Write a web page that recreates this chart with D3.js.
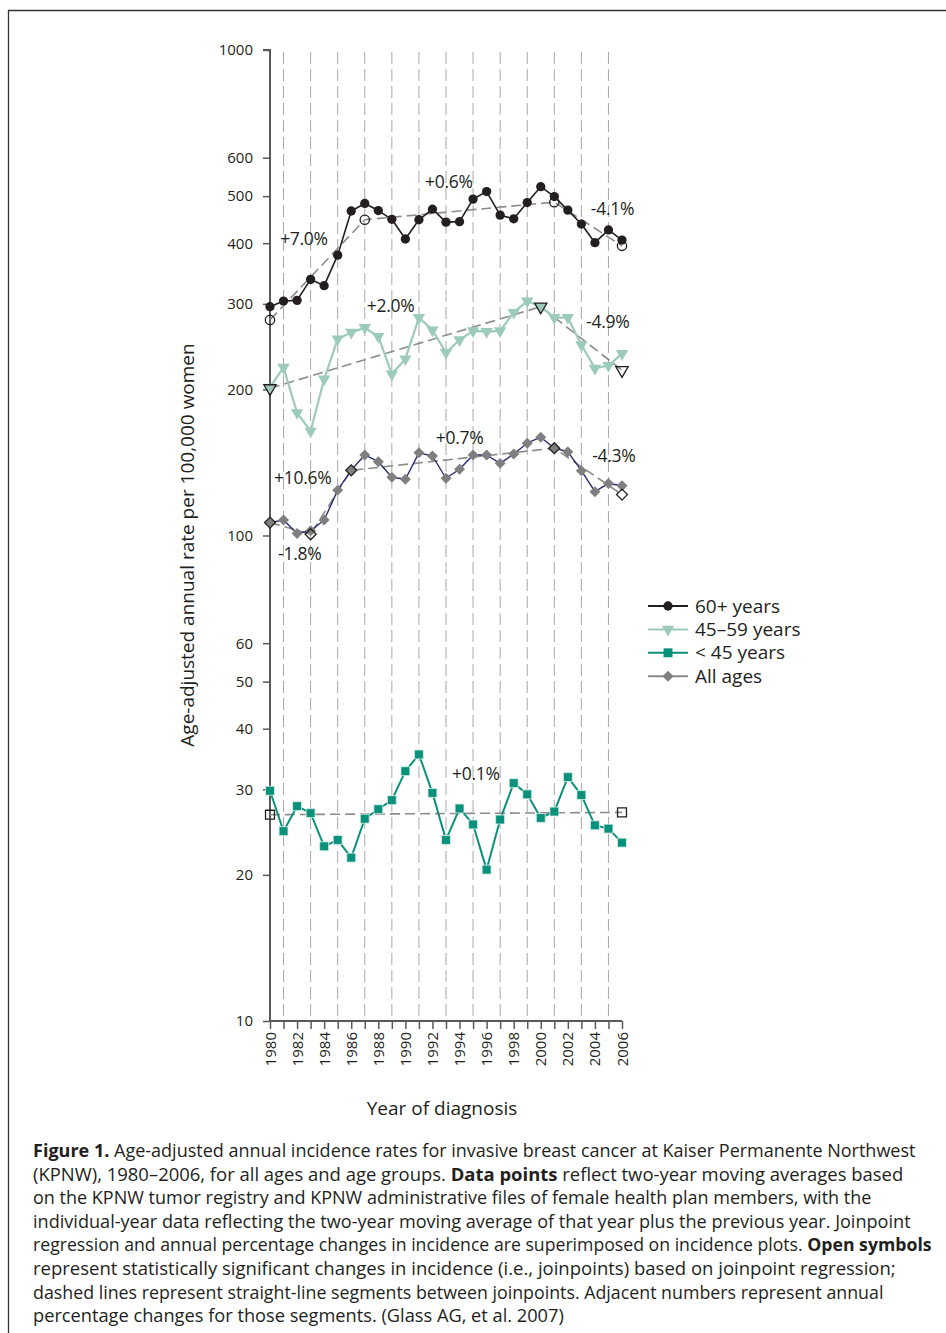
<!DOCTYPE html>
<html>
<head>
<meta charset="utf-8">
<script src="https://cdn.jsdelivr.net/npm/d3@7"></script>
<style>
  html, body { margin: 0; padding: 0; background: #fff; }
  svg { display: block; font-family: "Open Sans", "Noto Sans", sans-serif; }
</style>
</head>
<body>
<svg id="chart" width="946" height="1333"></svg>
<script>
// Years of diagnosis
const years = d3.range(1980, 2007);
const xTickLabels = d3.range(1980, 2007, 2);
const guideYears = d3.range(1981, 2006, 2);
const yTickValues = [10, 20, 30, 40, 50, 60, 100, 200, 300, 400, 500, 600, 1000];

// Two-year moving-average incidence per 100,000 women
const rate60plus = [296, 304, 305, 337, 327, 378, 466, 483, 467, 448, 408, 447,
  470, 442, 443, 493, 511, 457, 449, 485, 523, 499, 468, 438, 401, 426, 406];
const rate45to59 = [202, 222, 179, 164, 210, 254, 262, 268, 257, 215, 231, 281,
  265, 238, 253, 264, 263, 264, 288, 304, 296, 281, 281, 247, 221, 224, 237];
const rateUnder45 = [29.8, 24.6, 27.7, 26.8, 22.9, 23.6, 21.7, 26.1, 27.3, 28.5, 32.7, 35.4,
  29.5, 23.6, 27.4, 25.4, 20.5, 26.0, 30.9, 29.3, 26.2, 27.0, 31.8, 29.2, 25.3, 24.9, 23.3];
const rateAllAges = [106.3, 107.6, 101.0, 102.3, 107.6, 124.0, 136.4, 146.5, 141.9, 131.8, 130.6, 148.0,
  145.8, 131.2, 136.9, 146.5, 146.5, 140.8, 147.2, 154.9, 159.4, 151.3, 148.8, 136.0, 123.1, 128.0, 126.6];

// Joinpoint regression fits: [year, fitted rate]
const joins60plus = [[1980, 278], [1987, 447], [2001, 486], [2006, 395]];
const joins45to59 = [[1980, 201], [2000, 296], [2006, 219]];
const joinsUnder45 = [[1980, 26.6], [2006, 26.9]];
const joinsAllAges = [[1980, 106.3], [1983, 100.6], [1986, 136.2], [2001, 151.3], [2006, 121.4]];

// Annual percentage change labels
const apcText = ["+7.0%", "+0.6%", "-4.1%", "+2.0%", "-4.9%", "+10.6%", "-1.8%", "+0.7%", "-4.3%", "+0.1%"];

const seriesNames = ["60+ years", "45\u201359 years", "< 45 years", "All ages"];

const captionLines = [
  [["Figure 1.", true], [" Age-adjusted annual incidence rates for invasive breast cancer at Kaiser Permanente Northwest", false]],
  [["(KPNW), 1980\u20132006, for all ages and age groups. ", false], ["Data points", true], [" reflect two-year moving averages based", false]],
  [["on the KPNW tumor registry and KPNW administrative files of female health plan members, with the", false]],
  [["individual-year data reflecting the two-year moving average of that year plus the previous year. Joinpoint", false]],
  [["regression and annual percentage changes in incidence are superimposed on incidence plots. ", false], ["Open symbols", true]],
  [["represent statistically significant changes in incidence (i.e., joinpoints) based on joinpoint regression;", false]],
  [["dashed lines represent straight-line segments between joinpoints. Adjacent numbers represent annual", false]],
  [["percentage changes for those segments. (Glass AG, et al. 2007)", false]]
];

// ---- layout ----
const svg = d3.select("#chart");
const x = d3.scaleLinear().domain([1980, 2006]).range([270, 622]);
const y = d3.scaleLog().domain([10, 1000]).range([1021, 50]);

const ink = "#231f20";
const axisGrey = "#5a5a5a";
const trendGrey = "#8c8c8c";

// outer frame (top and left rules)
svg.append("path")
  .attr("d", "M8.5,1333 V10.5 H946")
  .attr("fill", "none").attr("stroke", "#333").attr("stroke-width", 1.3);

// vertical dashed guides at odd years
svg.append("g").selectAll("line")
  .data(guideYears)
  .join("line")
  .attr("x1", d => x(d)).attr("x2", d => x(d))
  .attr("y1", y(1000) + 2).attr("y2", y(10) - 2)
  .attr("stroke", "#a8a8a8").attr("stroke-width", 1)
  .attr("stroke-dasharray", "12,5");

// y axis
const yAxis = d3.axisLeft(y).tickValues(yTickValues).tickFormat(d3.format("d")).tickSize(7).tickPadding(10);
const gy = svg.append("g").attr("transform", `translate(${x(1980)},0)`).call(yAxis);
gy.select(".domain").attr("stroke", axisGrey).attr("stroke-width", 2).attr("d", `M-7,${y(1000)}H0V${y(10)}`);
gy.selectAll(".tick line").attr("stroke", axisGrey).attr("stroke-width", 1.5);
gy.selectAll(".tick text").attr("font-size", 15).attr("fill", ink)
  .attr("font-family", "'Open Sans', sans-serif");

// x axis
const xAxis = d3.axisBottom(x).tickValues(years).tickSize(8).tickFormat("");
const gx = svg.append("g").attr("transform", `translate(0,${y(10)})`).call(xAxis);
gx.select(".domain").attr("stroke", axisGrey).attr("stroke-width", 2).attr("d", `M${x(1980)},0H${x(2006)}`);
gx.selectAll(".tick line").attr("stroke", axisGrey).attr("stroke-width", 1.5);
svg.append("g").selectAll("text")
  .data(xTickLabels)
  .join("text")
  .attr("transform", d => `translate(${x(d) + 5.5},${y(10) + 11}) rotate(-90)`)
  .attr("text-anchor", "end")
  .attr("font-size", 15).attr("fill", ink)
  .text(d => d);

// axis titles
svg.append("text")
  .attr("transform", `translate(194,545) rotate(-90)`)
  .attr("text-anchor", "middle").attr("font-size", 19).attr("fill", ink)
  .text("Age-adjusted annual rate per 100,000 women");
svg.append("text")
  .attr("x", 442).attr("y", 1115)
  .attr("text-anchor", "middle").attr("font-size", 19).attr("fill", ink)
  .text("Year of diagnosis");

// ---- marker shapes ----
const shapes = {
  circle: d3.symbol().type(d3.symbolCircle).size(68),
  triangle: d3.symbol().type(d3.symbolTriangle).size(66),
  square: d3.symbol().type(d3.symbolSquare).size(80),
  diamond: d3.symbol().type(d3.symbolSquare).size(60)
};
function markerTransform(shape, px, py) {
  if (shape === "triangle") return `translate(${px},${py}) rotate(180)`;
  if (shape === "diamond") return `translate(${px},${py}) rotate(45)`;
  return `translate(${px},${py})`;
}

const series = [
  { values: rate60plus, joins: joins60plus, line: ink, fill: ink, shape: "circle", lw: 1.6 },
  { values: rate45to59, joins: joins45to59, line: "#9ccabb", fill: "#9ccabb", shape: "triangle", lw: 2.2 },
  { values: rateUnder45, joins: joinsUnder45, line: "#0a917b", fill: "#0a917b", shape: "square", lw: 2 },
  { values: rateAllAges, joins: joinsAllAges, line: "#2b2d70", fill: "#7f7f7f", shape: "diamond", lw: 1.4 }
];

const lineGen = d3.line().x(d => x(d[0])).y(d => y(d[1]));

// joinpoint trend segments underneath the data
series.forEach(s => {
  svg.append("path")
    .attr("d", lineGen(s.joins))
    .attr("fill", "none").attr("stroke", trendGrey).attr("stroke-width", 1.6)
    .attr("stroke-dasharray", "10,5");
});

// observed series
series.forEach(s => {
  const pts = years.map((yr, i) => [yr, s.values[i]]);
  svg.append("path")
    .attr("d", lineGen(pts))
    .attr("fill", "none").attr("stroke", s.line).attr("stroke-width", s.lw)
    .attr("stroke-linejoin", "round");
  svg.append("g").selectAll("path")
    .data(pts)
    .join("path")
    .attr("d", shapes[s.shape])
    .attr("transform", d => markerTransform(s.shape, x(d[0]), y(d[1])))
    .attr("fill", s.fill)
    .attr("stroke", s.shape === "square" ? "#dff1ec" : "none")
    .attr("stroke-width", 0.8);
});

// open symbols at joinpoints
series.forEach(s => {
  svg.append("g").selectAll("path")
    .data(s.joins)
    .join("path")
    .attr("d", shapes[s.shape])
    .attr("transform", d => markerTransform(s.shape, x(d[0]), y(d[1])))
    .attr("fill", "none")
    .attr("stroke", ink).attr("stroke-width", 1.3);
});

// APC labels, anchored in data units [year, rate]
const apcAnchors = [
  [1980.75, 396], [1991.45, 520], [2003.7, 457],
  [1987.15, 288], [2003.35, 268],
  [1980.3, 127.6], [1980.6, 89.0], [1992.25, 154.3], [2003.8, 141.7],
  [1993.45, 31.4]
];
svg.append("g").selectAll("text")
  .data(apcText)
  .join("text")
  .attr("x", (d, i) => x(apcAnchors[i][0]))
  .attr("y", (d, i) => y(apcAnchors[i][1]))
  .attr("font-size", 17.5).attr("fill", ink)
  .attr("letter-spacing", -0.3)
  .text(d => d);

// legend
const legend = svg.append("g").attr("transform", "translate(648,606)");
series.forEach((s, i) => {
  const row = legend.append("g").attr("transform", `translate(0,${i * 23.4})`);
  row.append("line").attr("x1", 0).attr("x2", 40).attr("y1", 0).attr("y2", 0)
    .attr("stroke", i === 3 ? "#8a8a8a" : s.line).attr("stroke-width", 2);
  row.append("path").attr("d", shapes[s.shape])
    .attr("transform", markerTransform(s.shape, 20, 0))
    .attr("fill", s.fill);
  row.append("text").attr("x", 47).attr("y", 6.5)
    .attr("font-size", 19).attr("fill", ink)
    .text(seriesNames[i]);
});

// caption, each line fitted to its column width
const captionWidths = [883, 871, 839, 878, 899, 863, 851, 531];
captionLines.forEach((parts, i) => {
  const t = svg.append("text")
    .attr("font-size", 17.5).attr("fill", ink)
    .attr("transform", `translate(33,${1157 + i * 23.6})`);
  parts.forEach(([txt, bold]) => {
    t.append("tspan").attr("font-weight", bold ? 700 : 400).text(txt);
  });
  const w = t.node().getComputedTextLength();
  const k = captionWidths[i] / w;
  t.attr("transform", `translate(33,${1157 + i * 23.6}) scale(${k},1)`);
});
</script>
</body>
</html>
